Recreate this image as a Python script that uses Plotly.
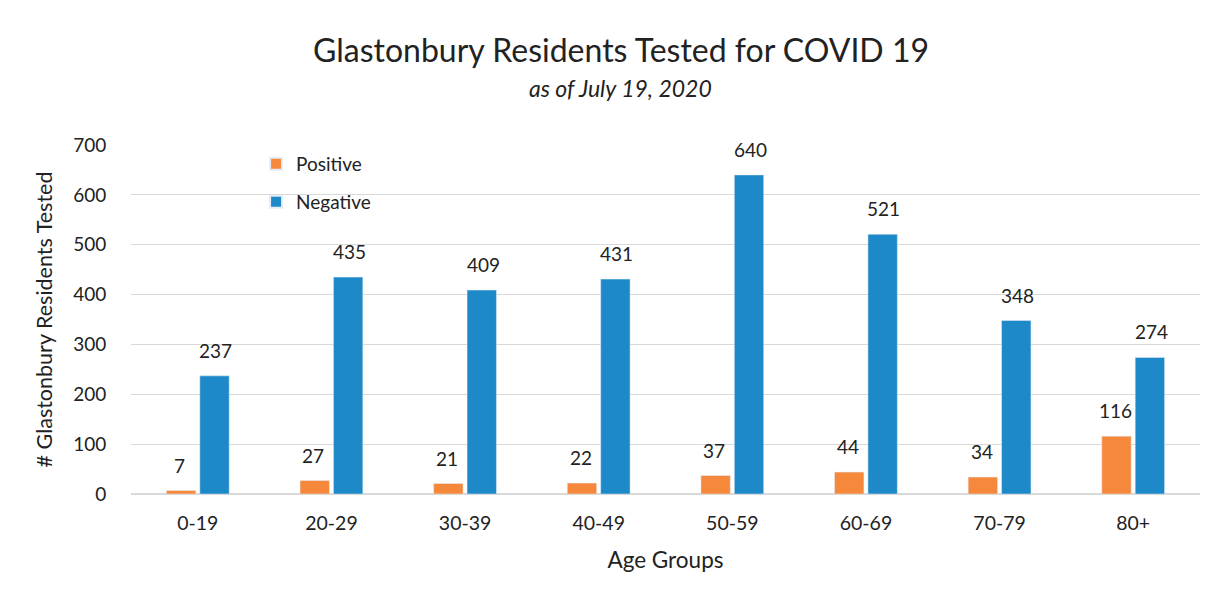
import plotly.graph_objects as go

categories = ["0-19", "20-29", "30-39", "40-49", "50-59", "60-69", "70-79", "80+"]
positive = [7, 27, 21, 22, 37, 44, 34, 116]
negative = [237, 435, 409, 431, 640, 521, 348, 274]
y_ticks = [0, 100, 200, 300, 400, 500, 600, 700]

FONT = "Lato"
ORANGE = "#F6883C"
BLUE = "#1E89C8"
TXT = "#222"

fig = go.Figure()
fig.add_trace(go.Bar(x=categories, y=positive, name="Positive", marker_color=ORANGE, legend="legend"))
fig.add_trace(go.Bar(x=categories, y=negative, name="Negative", marker_color=BLUE, legend="legend2"))

annotations = []
for c, p, n in zip(categories, positive, negative):
    annotations.append(dict(x=c, y=p, text=str(p), showarrow=False, xshift=-18,
                            yanchor="bottom", yshift=12, font=dict(size=19, color=TXT)))
    annotations.append(dict(x=c, y=n, text=str(n), showarrow=False, xshift=18,
                            yanchor="bottom", yshift=12, font=dict(size=19, color=TXT)))

annotations.append(dict(text="Glastonbury Residents Tested for COVID 19", xref="paper", yref="paper",
                        x=0.5, y=1.0, xshift=-45, yshift=117, showarrow=False, font=dict(size=32, color=TXT)))
annotations.append(dict(text="<i>as of July 19, 2020</i>", xref="paper", yref="paper",
                        x=0.5, y=1.0, xshift=-45, yshift=73, showarrow=False, font=dict(size=23, color=TXT)))

leg_common = dict(xanchor="left", yanchor="middle", bgcolor="rgba(0,0,0,0)",
                  font=dict(size=19, color=TXT), itemsizing="constant", xref="paper", yref="paper")

fig.update_layout(
    width=1220, height=596,
    margin=dict(l=123, r=28, t=137, b=110, autoexpand=False),
    paper_bgcolor="white", plot_bgcolor="white",
    font=dict(family=FONT, size=18, color=TXT),
    barmode="group", bargap=0.5, bargroupgap=0.12,
    showlegend=True,
    legend=dict(x=0.117, y=0.946, **leg_common),
    legend2=dict(x=0.117, y=0.837, **leg_common),
    annotations=annotations,
    xaxis=dict(title=dict(text="Age Groups", font=dict(size=22.5), standoff=18),
               showline=False, ticks="outside", ticklen=12, tickcolor="rgba(0,0,0,0)",
               tickfont=dict(size=19.5)),
    yaxis=dict(range=[0, 700], tickvals=y_ticks, showgrid=True, gridcolor="#d9d9d9",
               gridwidth=1, zeroline=True, zerolinecolor="#d9d9d9",
               ticks="outside", ticklen=20, tickcolor="rgba(0,0,0,0)",
               title=dict(text="# Glastonbury Residents Tested", font=dict(size=21.5), standoff=14),
               tickfont=dict(size=19)),
)

fig.write_html("out.html")
